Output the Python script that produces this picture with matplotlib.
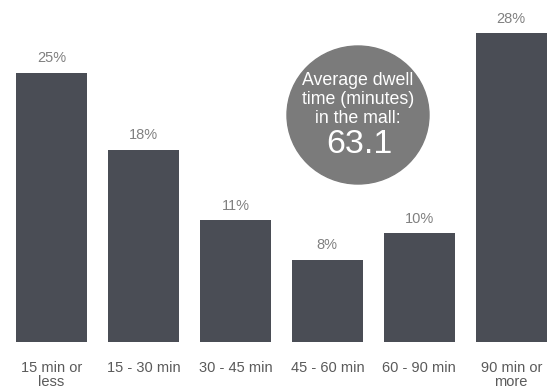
import matplotlib.pyplot as plt
from matplotlib.patches import Ellipse

plt.rcParams['font.family'] = ['Liberation Sans', 'DejaVu Sans']

categories = ['15 min or\nless', '15 - 30 min', '30 - 45 min', '45 - 60 min', '60 - 90 min', '90 min or\nmore']
shares = [24.5, 17.5, 11.1, 7.5, 9.9, 28.1]
share_labels = ['25%', '18%', '11%', '8%', '10%', '28%']
bubble_lines = ['Average dwell', 'time (minutes)', 'in the mall:']
avg_dwell = 63.1

bar_color = '#4a4d55'
fig = plt.figure(figsize=(5.48, 3.88), dpi=100)
ax = fig.add_axes([0, 46 / 388, 1, 342 / 388])

x = range(len(categories))
ax.bar(x, shares, width=0.775, color=bar_color)
for xi, v, lab in zip(x, shares, share_labels):
    ax.annotate(lab, (xi, v), xytext=(0, 7.5), textcoords='offset points',
                ha='center', va='baseline', fontsize=10.5, color='#808080')

ax.set_xlim(-0.56, 5.40)
ax.set_ylim(0, 31.1)
ax.set_xticks(list(x))
ax.set_xticklabels(categories, fontsize=10.5, color='#5a5a5a', linespacing=1.0)
ax.tick_params(axis='x', length=0, pad=14)
ax.set_yticks([])
for s in ax.spines.values():
    s.set_visible(False)

# bubble with the average dwell time
cx, cy = 358 / 548, 1 - 115 / 388
fig.patches.append(Ellipse((cx, cy), 142 / 548, 138 / 388, transform=fig.transFigure,
                           color='#7b7b7b', zorder=5))
for line, base in zip(bubble_lines, [85, 104.5, 123]):
    fig.text(cx, 1 - base / 388, line, ha='center', va='baseline',
             fontsize=12.8, color='white', zorder=6)
fig.text(cx + 1 / 548, 1 - 153 / 388, f'{avg_dwell:.1f}', ha='center', va='baseline',
         fontsize=24.5, color='white', zorder=6)

fig.savefig('out.png', dpi=100)
